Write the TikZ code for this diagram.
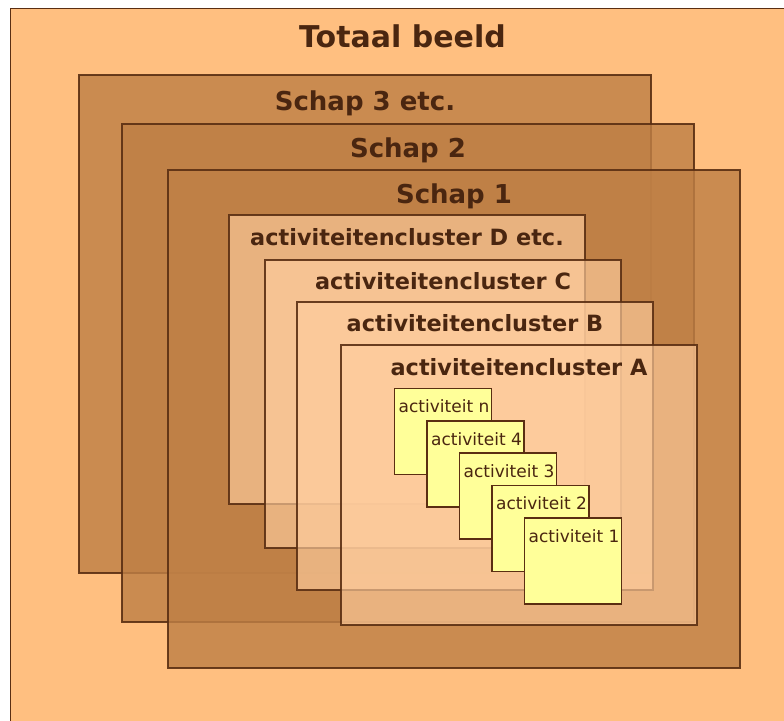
\documentclass[tikz,border=0pt]{standalone}
\usepackage{fontspec}
\setmainfont{DejaVu Sans}
\definecolor{bgorange}{HTML}{FFBF80}
\definecolor{schapfill}{HTML}{BF8046}
\definecolor{clusterfill}{HTML}{FFCD9E}
\definecolor{actfill}{HTML}{FFFF99}
\definecolor{edgebrown}{HTML}{5A2E12}
\definecolor{textbrown}{HTML}{4A2610}
\tikzset{
  x=1pt, y=-1pt,
  frame/.style={draw=edgebrown, line width=1.8pt, anchor=north west, inner sep=0pt, outer sep=0pt},
  outerbox/.style={frame, line width=1.2pt, fill=bgorange},
  schapbox/.style={frame, fill=schapfill, fill opacity=0.82, draw opacity=0.9, minimum width=572pt, minimum height=498pt},
  clusterbox/.style={frame, fill=clusterfill, fill opacity=0.65, draw opacity=0.9, minimum width=356pt},
  actbox/.style={frame, fill=actfill, minimum width=97pt, minimum height=86pt},
  titletext/.style={anchor=base, inner sep=0pt, text=textbrown, font=\bfseries\fontsize{30}{36}\selectfont},
  schaptext/.style={anchor=base, inner sep=0pt, text=textbrown, font=\bfseries\fontsize{26}{31}\selectfont},
  clustertext/.style={anchor=base, inner sep=0pt, text=textbrown, font=\bfseries\fontsize{22.4}{27}\selectfont},
  acttext/.style={anchor=base west, inner sep=0pt, text=textbrown, font=\fontsize{17}{20}\selectfont},
}
\begin{document}
\begin{tikzpicture}
\useasboundingbox (0,0) rectangle (784,720);
\fill[white] (0,0) rectangle (784,720);
\begin{scope}
\clip (0,0) rectangle (784,720);
\node[outerbox, minimum width=790pt, minimum height=720pt] (total) at (10.5,8.5) {};
\end{scope}
\node[titletext] (totaltxt) at (402.5,47.5) {Totaal beeld};

\node[schapbox] (s3) at (79,75) {};
\node[schaptext] (s3txt) at (365,110.5) {Schap 3 etc.};
\node[schapbox] (s2) at (122,124) {};
\node[schaptext] (s2txt) at (408,157.5) {Schap 2};
\node[schapbox] (s1) at (168,170) {};
\node[schaptext] (s1txt) at (454,203.5) {Schap 1};

\node[clusterbox, minimum height=289pt] (cd) at (229,215) {};
\node[clustertext] (cdtxt) at (407,245.7) {activiteitencluster D etc.};
\node[clusterbox, minimum height=288pt] (cc) at (265,260) {};
\node[clustertext] (cctxt) at (443,289.5) {activiteitencluster C};
\node[clusterbox, minimum height=288pt] (cb) at (297,302) {};
\node[clustertext] (cbtxt) at (475,331.7) {activiteitencluster B};
\node[clusterbox, minimum height=280pt] (ca) at (341,345) {};
\node[clustertext] (catxt) at (519,375) {activiteitencluster A};

\node[actbox] (an) at (394.5,388.5) {};
\node[acttext] (antxt) at (398.5,412.8) {activiteit n};
\node[actbox] (a4) at (427,420.8) {};
\node[acttext] (a4txt) at (431,445.1) {activiteit 4};
\node[actbox] (a3) at (459.5,453.1) {};
\node[acttext] (a3txt) at (463.5,477.4) {activiteit 3};
\node[actbox] (a2) at (492,485.4) {};
\node[acttext] (a2txt) at (496,509.7) {activiteit 2};
\node[actbox] (a1) at (524.5,517.7) {};
\node[acttext] (a1txt) at (528.5,542) {activiteit 1};
\end{tikzpicture}
\end{document}
